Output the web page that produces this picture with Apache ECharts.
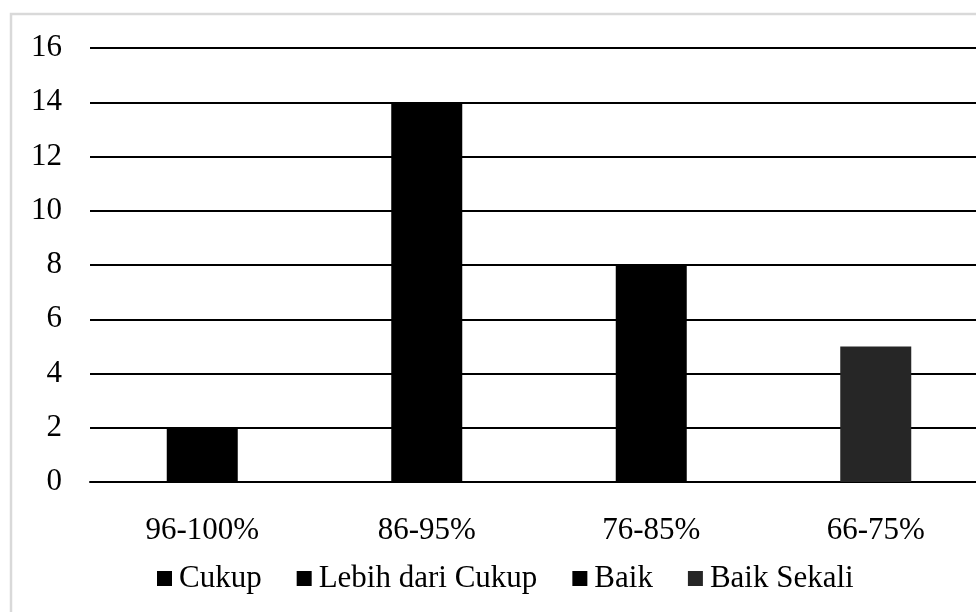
<!DOCTYPE html>
<html>
<head>
<meta charset="utf-8">
<style>
html,body{margin:0;padding:0;background:#fff;}
#chart{width:976px;height:612px;}
</style>
<script src="https://cdn.jsdelivr.net/npm/echarts@6/dist/echarts.min.js"></script>
</head>
<body>
<div id="chart"></div>
<script>
const categories = ['96-100%', '86-95%', '76-85%', '66-75%'];
const seriesNames = ['Cukup', 'Lebih dari Cukup', 'Baik', 'Baik Sekali'];
const values = [2, 14, 8, 5];
const colors = ['#000000', '#000000', '#000000', '#262626'];
const yTicks = [0, 2, 4, 6, 8, 10, 12, 14, 16];

const chart = echarts.init(document.getElementById('chart'));
const font = 'Liberation Serif, Times New Roman, serif';

const series = seriesNames.map((name, i) => ({
  name: name,
  type: 'bar',
  stack: 'total',
  barWidth: 71,
  itemStyle: { color: colors[i] },
  data: categories.map((c, j) => (j === i ? values[i] : '-'))
}));

chart.setOption({
  animation: false,
  backgroundColor: '#ffffff',
  textStyle: { fontFamily: font },
  graphic: [{
    type: 'rect',
    shape: { x: 11, y: 14, width: 1100, height: 700 },
    style: { fill: 'none', stroke: '#d9d9d9', lineWidth: 2.5 },
    silent: true,
    z: -10
  }],
  grid: { left: 90, top: 48, width: 898, height: 434, outerBoundsMode: 'none', containLabel: false },
  legend: {
    data: seriesNames,
    left: 157,
    top: 563,
    padding: 0,
    itemWidth: 15,
    itemHeight: 15,
    itemGap: 35,
    icon: 'rect',
    textStyle: { fontFamily: font, fontSize: 31, color: '#000', padding: [0, 0, 0, 2] }
  },
  xAxis: {
    type: 'category',
    data: categories,
    axisLine: { show: true, lineStyle: { color: '#000', width: 2 } },
    axisTick: { show: false },
    axisLabel: { color: '#000', fontSize: 31, fontFamily: font, margin: 33 }
  },
  yAxis: {
    type: 'value',
    min: yTicks[0],
    max: yTicks[yTicks.length - 1],
    interval: 2,
    axisLine: { show: false },
    axisTick: { show: false },
    axisLabel: { color: '#000', fontSize: 31, fontFamily: font, margin: 28 },
    splitLine: { lineStyle: { color: '#000', width: 2 } }
  },
  series: series
});
</script>
</body>
</html>
